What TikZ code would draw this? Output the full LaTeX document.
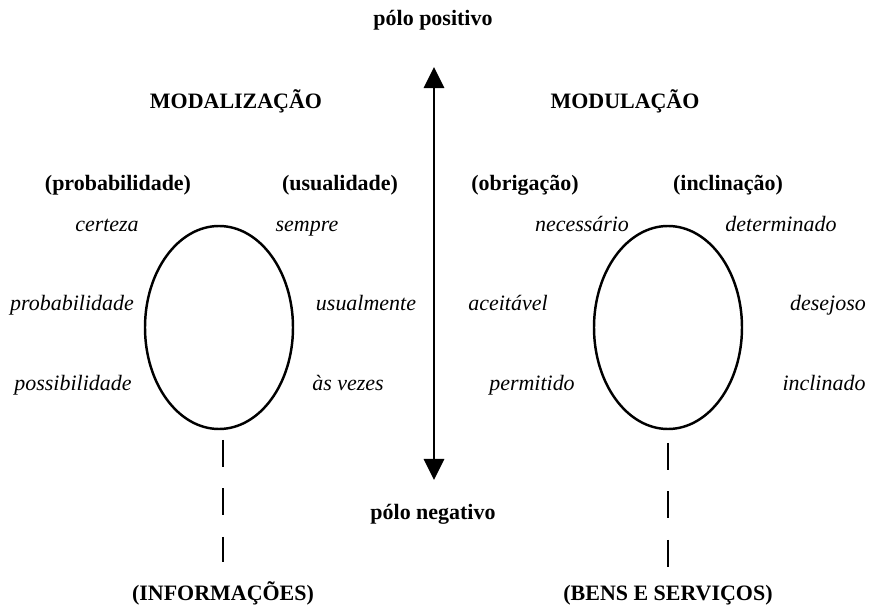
\documentclass[tikz,border=0pt]{standalone}
\usepackage{fontspec}
\setmainfont{Liberation Serif}
\usetikzlibrary{arrows.meta,shapes.geometric}
\begin{document}
\begin{tikzpicture}[scale=1.0,
  boldlbl/.style={anchor=base,inner sep=0pt,font=\fontsize{12.5}{15}\selectfont\bfseries},
  itallbl/.style={anchor=base,inner sep=0pt,font=\fontsize{12.5}{15}\selectfont\itshape},
  oval/.style={draw,ellipse,line width=1.4pt,inner sep=0pt,minimum width=2.96cm,minimum height=4.06cm}]
\useasboundingbox (0,0) rectangle (17.48,-12.10);
\coordinate[] (T) at (8.68,-1.34);
\coordinate[] (B) at (8.68,-9.60);
\coordinate[] (IT) at (4.46,-8.80);
\coordinate[] (IB) at (4.46,-11.24);
\coordinate[] (ST) at (13.36,-8.86);
\coordinate[] (SB) at (13.36,-11.34);
\node[boldlbl] (pos) at (8.66,-0.52) {pólo positivo};
\node[boldlbl] (neg) at (8.66,-10.40) {pólo negativo};
\node[boldlbl] (modal) at (4.72,-2.18) {MODALIZAÇÃO};
\node[boldlbl] (modul) at (12.50,-2.18) {MODULAÇÃO};
\node[boldlbl] (prob) at (2.36,-3.82) {(probabilidade)};
\node[boldlbl] (usual) at (6.80,-3.82) {(usualidade)};
\node[boldlbl] (obrig) at (10.50,-3.82) {(obrigação)};
\node[boldlbl] (incl) at (14.56,-3.82) {(inclinação)};
\node[itallbl] (cert) at (2.14,-4.64) {certeza};
\node[itallbl] (semp) at (6.14,-4.64) {sempre};
\node[itallbl] (nec) at (11.64,-4.64) {necessário};
\node[itallbl] (det) at (15.62,-4.64) {determinado};
\node[itallbl] (pbl) at (1.44,-6.22) {probabilidade};
\node[itallbl] (usm) at (7.32,-6.22) {usualmente};
\node[itallbl] (acc) at (10.16,-6.22) {aceitável};
\node[itallbl] (des) at (16.56,-6.22) {desejoso};
\node[itallbl] (poss) at (1.46,-7.82) {possibilidade};
\node[itallbl] (avez) at (6.96,-7.82) {às vezes};
\node[itallbl] (perm) at (10.64,-7.82) {permitido};
\node[itallbl] (incd) at (16.48,-7.82) {inclinado};
\node[oval] (EL) at (4.38,-6.55) {};
\node[oval] (ER) at (13.36,-6.55) {};
\node[boldlbl] (info) at (4.46,-12.02) {(INFORMAÇÕES)};
\node[boldlbl] (bens) at (13.36,-12.02) {(BENS E SERVIÇOS)};
\draw [line width=1.7pt,{Triangle[length=12pt,width=11.4pt]}-{Triangle[length=12pt,width=11.4pt]}] (T) -- (B);
\draw [line width=1.7pt,dash pattern=on 0.54cm off 0.43cm] (IT) -- (IB);
\draw [line width=1.7pt,dash pattern=on 0.54cm off 0.43cm] (ST) -- (SB);
\end{tikzpicture}
\end{document}
